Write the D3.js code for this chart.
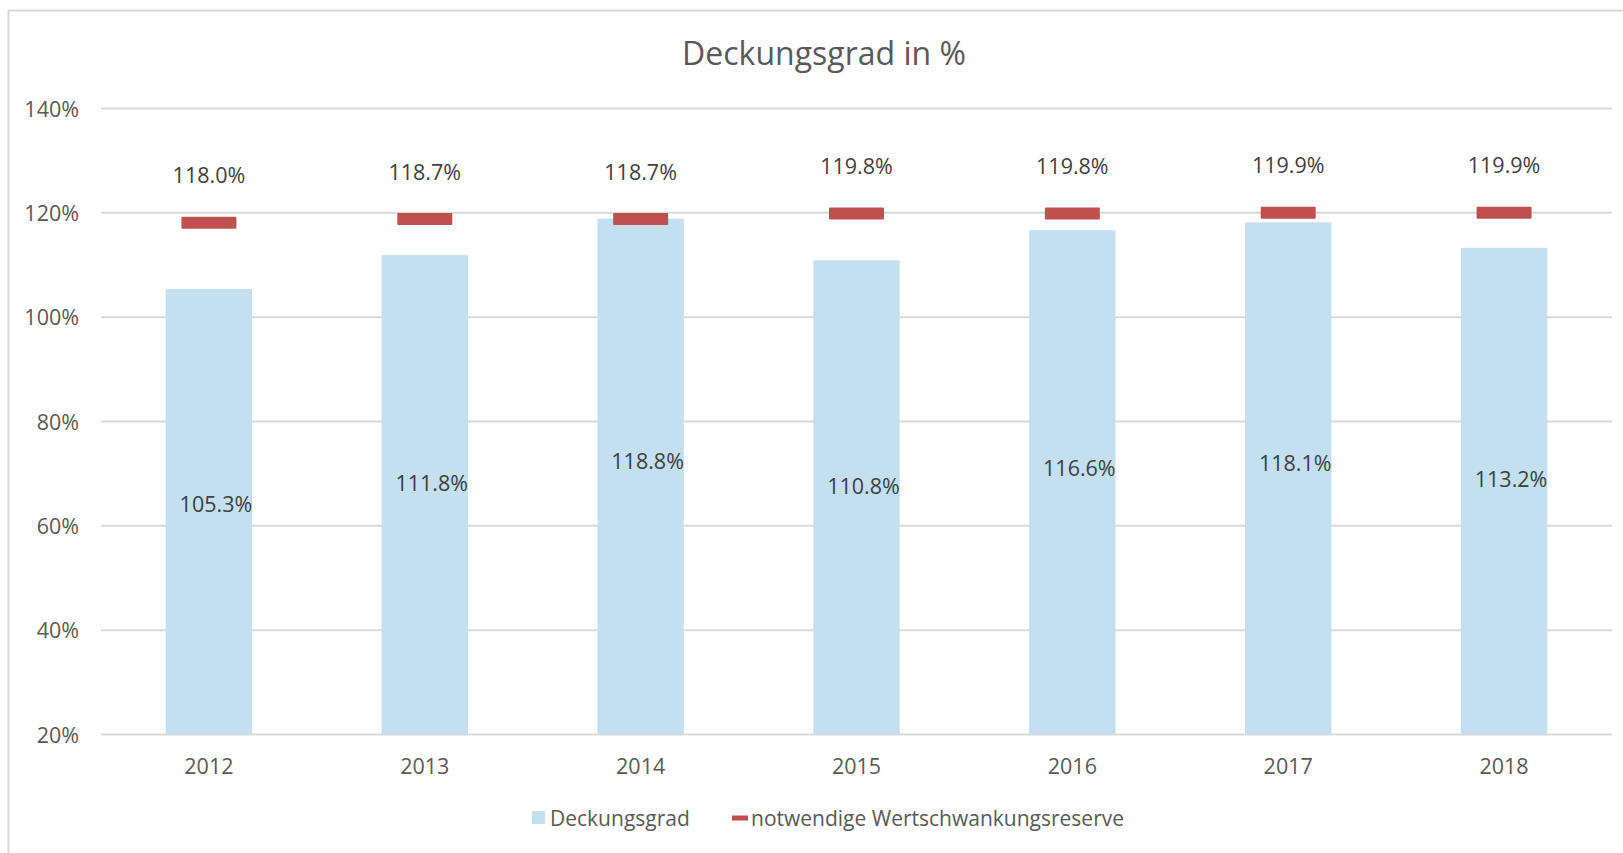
<!DOCTYPE html>
<html>
<head>
<meta charset="utf-8">
<script src="https://cdn.jsdelivr.net/npm/d3@7"></script>
<style>
  body { margin: 0; background: #fff; }
  svg text { font-family: "Open Sans", "Noto Sans", sans-serif; fill: #595959; }
  svg text.value { fill: #404040; }
  .grid line { stroke: #d9d9d9; stroke-width: 2; }
  .grid .domain { display: none; }
</style>
</head>
<body>
<svg id="chart" width="1623" height="853"></svg>
<script>

// Data
var years = ['2012', '2013', '2014', '2015', '2016', '2017', '2018'];
var deckungsgrad = [105.3, 111.8, 118.8, 110.8, 116.6, 118.1, 113.2];
var reserve = [118.0, 118.7, 118.7, 119.8, 119.8, 119.9, 119.9];
var yTicks = [20, 40, 60, 80, 100, 120, 140];
var seriesNames = ['Deckungsgrad', 'notwendige Wertschwankungsreserve'];

function chart() {

  // Default values
  var vars = {
    width: 1623,
    height: 853,
    margin: {top: 108, right: 11, bottom: 119, left: 101},
    title: 'Deckungsgrad in %',
    barColor: '#c3dff0',
    markColor: '#c0504d',
    xScale: d3.scaleBand(),
    yScale: d3.scaleLinear()
  };

  function chart(selection) {

    selection.each(function() {

      var svg = d3.select(this);
      var fmt = function(v) { return d3.format('.1f')(v) + '%'; };

      vars.xScale
          .domain(years)
          .range([vars.margin.left, vars.width - vars.margin.right])
          .paddingInner(0.6)
          .paddingOuter(0.3);

      vars.yScale
          .domain([20, 140])
          .range([vars.height - vars.margin.bottom, vars.margin.top]);

      var center = function(d, i) { return vars.xScale(years[i]) + vars.xScale.bandwidth() / 2; };

      // outer frame
      svg.append('rect')
          .attr('x', 8.5).attr('y', 10.5)
          .attr('width', 1700).attr('height', 900)
          .attr('fill', 'none')
          .attr('stroke', '#d9d9d9')
          .attr('stroke-width', 2);

      svg.append('text')
          .attr('x', 824)
          .attr('y', 65)
          .attr('text-anchor', 'middle')
          .style('font-size', '32px')
          .text(vars.title);

      // gridlines
      svg.append('g')
          .attr('class', 'grid')
          .attr('transform', 'translate(' + vars.margin.left + ',0)')
          .call(d3.axisLeft(vars.yScale)
            .tickValues(yTicks)
            .tickSize(-(vars.width - vars.margin.left - vars.margin.right))
            .tickFormat(''));

      // y labels
      svg.append('g').selectAll('text').data(yTicks)
        .enter()
          .append('text')
          .attr('x', 79)
          .attr('y', function(d) { return vars.yScale(d); })
          .attr('text-anchor', 'end')
          .attr('dominant-baseline', 'central')
          .style('font-size', '21.5px')
          .text(function(d) { return d + '%'; });

      // x labels
      svg.append('g').selectAll('text').data(years)
        .enter()
          .append('text')
          .attr('x', function(d) { return vars.xScale(d) + vars.xScale.bandwidth() / 2; })
          .attr('y', vars.yScale(20) + 31)
          .attr('text-anchor', 'middle')
          .attr('dominant-baseline', 'central')
          .style('font-size', '21.5px')
          .text(function(d) { return d; });

      // bars
      svg.append('g').selectAll('rect').data(deckungsgrad)
        .enter()
          .append('rect')
          .attr('x', function(d, i) { return vars.xScale(years[i]); })
          .attr('y', function(d) { return vars.yScale(d); })
          .attr('width', vars.xScale.bandwidth())
          .attr('height', function(d) { return vars.yScale(20) - vars.yScale(d); })
          .attr('fill', vars.barColor);

      svg.append('g').selectAll('text').data(deckungsgrad)
        .enter()
          .append('text')
          .attr('class', 'value')
          .attr('x', function(d, i) { return center(d, i) + 7; })
          .attr('y', function(d) { return vars.yScale(d * 0.61); })
          .attr('text-anchor', 'middle')
          .attr('dominant-baseline', 'central')
          .style('font-size', '21.5px')
          .text(fmt);

      // reserve markers
      var markW = 55, markH = 12;
      svg.append('g').selectAll('rect').data(reserve)
        .enter()
          .append('rect')
          .attr('x', function(d, i) { return center(d, i) - markW / 2; })
          .attr('y', function(d) { return vars.yScale(d) - markH / 2; })
          .attr('width', markW)
          .attr('height', markH)
          .attr('rx', 1)
          .attr('fill', vars.markColor);

      svg.append('g').selectAll('text').data(reserve)
        .enter()
          .append('text')
          .attr('class', 'value')
          .attr('x', center)
          .attr('y', function(d) { return vars.yScale(d) - 48; })
          .attr('text-anchor', 'middle')
          .attr('dominant-baseline', 'central')
          .style('font-size', '21.5px')
          .text(fmt);

      // legend
      var legend = svg.append('g').attr('transform', 'translate(0,818)');
      legend.append('rect')
          .attr('x', 532).attr('y', -7)
          .attr('width', 13).attr('height', 13)
          .attr('fill', vars.barColor);
      legend.append('text')
          .attr('x', 550).attr('y', 0)
          .attr('dominant-baseline', 'central')
          .style('font-size', '21px')
          .text(seriesNames[0]);
      legend.append('rect')
          .attr('x', 732).attr('y', -2.5)
          .attr('width', 16).attr('height', 5)
          .attr('fill', vars.markColor);
      legend.append('text')
          .attr('x', 751).attr('y', 0)
          .attr('dominant-baseline', 'central')
          .style('font-size', '21px')
          .text(seriesNames[1]);
    });
  }

  chart.params = function(x) {
    if (!arguments.length) return vars;
    for (var key in x) vars[key] = x[key];
    return chart;
  };

  return chart;
}

d3.select('#chart').call(chart());

</script>
</body>
</html>
